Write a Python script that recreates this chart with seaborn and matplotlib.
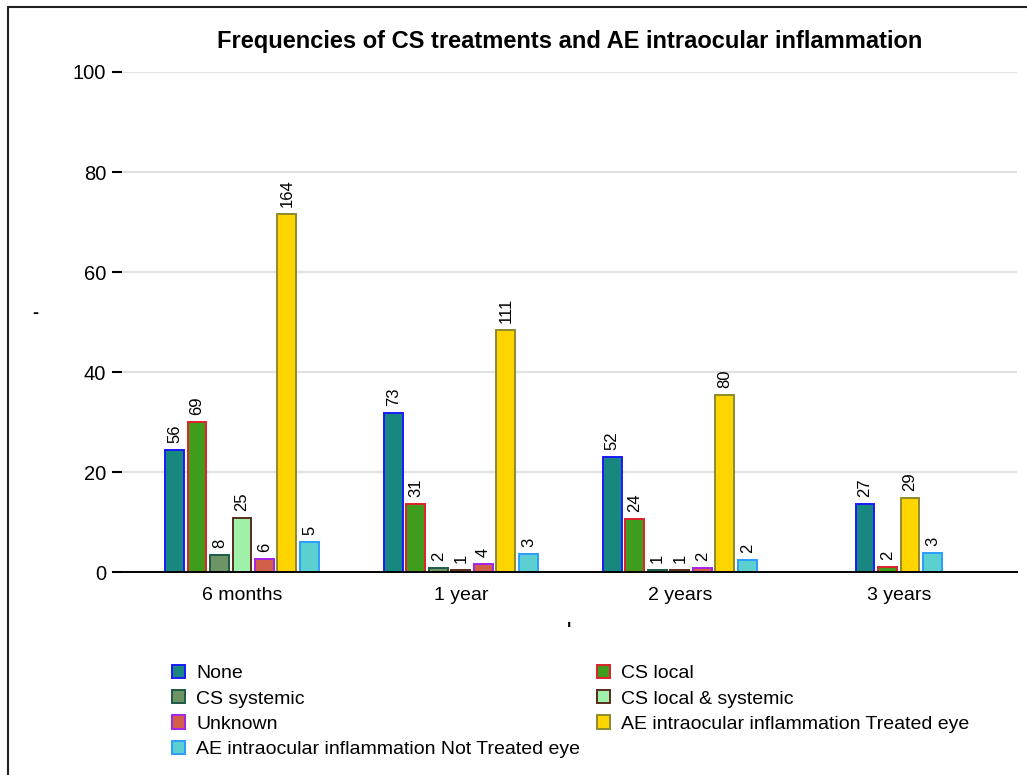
import matplotlib
matplotlib.use('Agg')
import matplotlib.pyplot as plt
from matplotlib.patches import Patch
from matplotlib.lines import Line2D
from matplotlib.colors import to_hex
import seaborn as sns
import pandas as pd

# data
periods = ['6 months', '1 year', '2 years', '3 years']
categories = ['None', 'CS local', 'CS systemic', 'CS local & systemic', 'Unknown',
              'AE intraocular inflammation Treated eye',
              'AE intraocular inflammation Not Treated eye']

# percentages (bar heights); None = no bar
pct_6m = [24.5, 30.1, 3.5, 10.9, 2.6, 71.6, 6.1]
pct_1y = [31.9, 13.6, 0.9, 0.4, 1.7, 48.5, 3.7]
pct_2y = [23.0, 10.7, 0.4, 0.4, 0.9, 35.5, 2.5]
pct_3y = [13.7, 1.1, None, None, None, 14.8, 3.9]

# counts shown above the bars
n_6m = [56, 69, 8, 25, 6, 164, 5]
n_1y = [73, 31, 2, 1, 4, 111, 3]
n_2y = [52, 24, 1, 1, 2, 80, 2]
n_3y = [27, 2, None, None, None, 29, 3]

fills = ['#17877f', '#3f9c1c', '#6e9466', '#9ff0a9', '#d25f48', '#ffd500', '#5ccfd0']
edges = ['#1a1aff', '#e0202a', '#1e5a48', '#5a2b1c', '#a424e8', '#8c8a30', '#2a9cff']

pcts = [pct_6m, pct_1y, pct_2y, pct_3y]
counts = [n_6m, n_1y, n_2y, n_3y]

# long table, bars of each period packed side by side around the period centre
slot = 0.1027
rows = []
for i, period in enumerate(periods):
    present = [j for j, v in enumerate(pcts[i]) if v is not None]
    k = len(present)
    for s, j in enumerate(present):
        rows.append({'period': period, 'category': categories[j],
                     'xpos': i + (s - (k - 1) / 2) * slot,
                     'pct': pcts[i][j], 'n': counts[i][j]})
df = pd.DataFrame(rows)

sns.set_style('white')
plt.rcParams['font.family'] = ['Liberation Sans', 'DejaVu Sans']
plt.rcParams['text.color'] = 'black'
plt.rcParams['axes.labelcolor'] = 'black'
plt.rcParams['xtick.color'] = 'black'
plt.rcParams['ytick.color'] = 'black'

fig = plt.figure(figsize=(10.27, 7.75), dpi=100)
ax = fig.add_axes([0.1188, 0.2619, 0.8712, 0.6452])

sns.barplot(data=df, x='xpos', y='pct', hue='category', hue_order=categories,
            palette=fills, saturation=1, native_scale=True, dodge=False, width=0.84,
            errorbar=None, legend=False, ax=ax, zorder=3)

# per-category edge colours
edge_of = {to_hex(f): e for f, e in zip(fills, edges)}
for bar in ax.patches:
    bar.set_edgecolor(edge_of.get(to_hex(bar.get_facecolor()), 'black'))
    bar.set_linewidth(1.4)

# count labels
for _, r in df.iterrows():
    ax.annotate(str(int(r['n'])), (r['xpos'], r['pct']), xytext=(0, 5),
                textcoords='offset points', rotation=90, ha='center',
                va='bottom', fontsize=12, zorder=4)

ax.set_ylim(0, 100)
ax.set_xlim(-0.548, 3.539)
ax.set_yticks([0, 20, 40, 60, 80, 100])
ax.set_xticks(range(len(periods)))
ax.set_xticklabels(periods)
ax.yaxis.grid(True, color='#e2e2e2', linewidth=1.6, zorder=0)
ax.xaxis.grid(False)
for side in ['top', 'right', 'left']:
    ax.spines[side].set_visible(False)
ax.spines['bottom'].set_color('black')
ax.spines['bottom'].set_linewidth(1.4)
ax.spines['bottom'].set_zorder(5)
ax.tick_params(axis='y', left=True, length=7, width=1.5, color='black',
               labelsize=14.5, pad=4.5)
ax.tick_params(axis='x', bottom=False, labelsize=14, pad=7)

ax.set_ylabel('-', rotation=0, fontsize=13, fontweight='bold')
ax.yaxis.set_label_coords(-0.097, 0.5)
ax.set_xlabel("'", fontsize=13, fontweight='bold')
ax.xaxis.set_label_coords(0.5, -0.1)

ax.set_title('Frequencies of CS treatments and AE intraocular inflammation',
             fontsize=17, fontweight='bold', pad=17)

# legend: two blocks, filled row by row in the reference
handles = [Patch(facecolor=f, edgecolor=e, linewidth=1.4) for f, e in zip(fills, edges)]
left_idx = [0, 2, 4, 6]
right_idx = [1, 3, 5]
leg_kw = dict(frameon=False, fontsize=14, handlelength=0.67, handleheight=0.67,
              handletextpad=0.57, labelspacing=0.4, borderpad=0, borderaxespad=0,
              loc='upper left')
fig.legend([handles[j] for j in left_idx], [categories[j] for j in left_idx],
           bbox_to_anchor=(172 / 1027, 1 - 665 / 775), **leg_kw)
fig.legend([handles[j] for j in right_idx], [categories[j] for j in right_idx],
           bbox_to_anchor=(597 / 1027, 1 - 665 / 775), **leg_kw)

# outer frame of the picture
fig.add_artist(Line2D([8 / 1027, 8 / 1027], [0, 1 - 7 / 775], color='#222222',
                      linewidth=1.5, transform=fig.transFigure))
fig.add_artist(Line2D([8 / 1027, 1], [1 - 7 / 775, 1 - 7 / 775], color='#222222',
                      linewidth=1.5, transform=fig.transFigure))

fig.savefig('out.png', dpi=100)
